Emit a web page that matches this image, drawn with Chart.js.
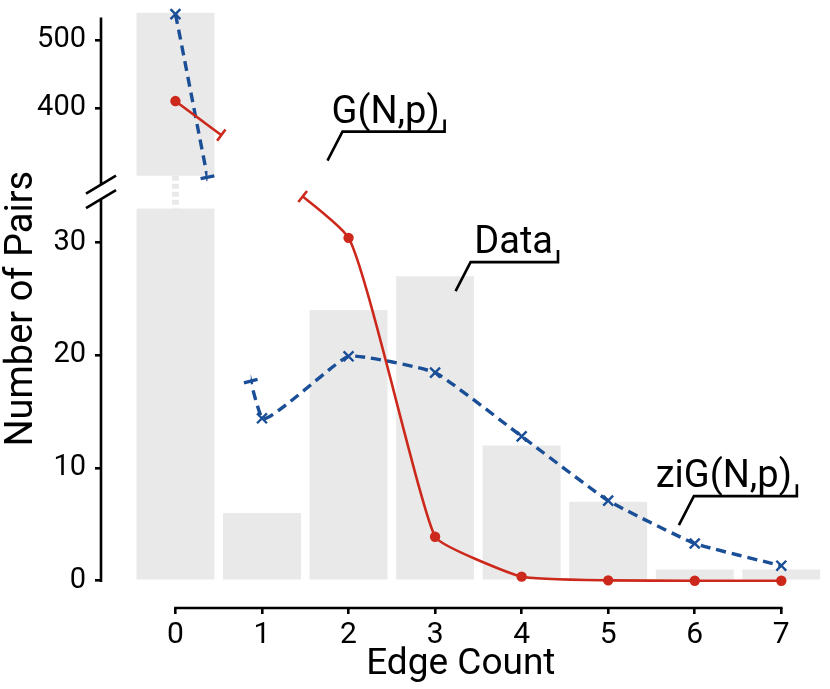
<!DOCTYPE html>
<html>
<head>
<meta charset="utf-8">
<title>Edge Count</title>
<script src="https://cdn.jsdelivr.net/npm/chart.js@4/dist/chart.umd.min.js"></script>
<style>
  html, body { margin: 0; padding: 0; background: #fff; }
  #wrap { width: 830px; height: 689px; position: relative; }
</style>
</head>
<body>
<div id="wrap"><canvas id="chart"></canvas></div>
<script>
// values
const edgeCounts = [0, 1, 2, 3, 4, 5, 6, 7];
const dataPairs = [540, 6, 24, 27, 12, 7, 1, 1];
const gnpPairs = [410, null, 30.4, 3.9, 0.36, 0.03, 0, 0]; // value at 1 falls inside the axis break
const zignpPairs = [538, 14.4, 19.9, 18.45, 12.8, 7.1, 3.3, 1.33];
const yTickValues = [0, 10, 20, 30, 400, 500];
const calloutTexts = ['G(N,p)', 'Data', 'ziG(N,p)'];

const BAR_GREY = '#e9e9e9';
const RED = '#cc291c';
const BLUE = '#1a4e96';
const FONT = 'Roboto, "DejaVu Sans", sans-serif';

// y axis is cut between these two values
const axisBreak = { from: 33, to: 300, gap: 32.8, lowerShare: 0.706 };

// linear scale with a gap: lower part and upper part each get their own factor
class BrokenLinearScale extends Chart.LinearScale {
    _parts() {
        const span = this.bottom - this.top - axisBreak.gap;
        const lowH = span * axisBreak.lowerShare;
        return { lowH: lowH, upH: span - lowH };
    }
    getPixelForValue(value) {
        const p = this._parts();
        const lo = axisBreak.from, hi = axisBreak.to;
        if (value <= lo) return this.bottom - (value - this.min) / (lo - this.min) * p.lowH;
        if (value >= hi) return this.top + (this.max - value) / (this.max - hi) * p.upH;
        return this.bottom - p.lowH - (value - lo) / (hi - lo) * axisBreak.gap;
    }
    getValueForPixel(pixel) {
        const p = this._parts();
        const lo = axisBreak.from, hi = axisBreak.to;
        const loTop = this.bottom - p.lowH;
        const hiBottom = this.top + p.upH;
        if (pixel >= loTop) return this.min + (this.bottom - pixel) / p.lowH * (lo - this.min);
        if (pixel <= hiBottom) return this.max - (pixel - this.top) / p.upH * (this.max - hi);
        return lo + (loTop - pixel) / axisBreak.gap * (hi - lo);
    }
}
BrokenLinearScale.id = 'brokenLinear';
BrokenLinearScale.defaults = Chart.LinearScale.defaults;
Chart.register(BrokenLinearScale);

// point + tangent on the drawn bezier path at pixel x
function curveAt(pts, X) {
    const bez = (t, a, b, c, d) => { const u = 1 - t; return u * u * u * a + 3 * u * u * t * b + 3 * u * t * t * c + t * t * t * d; };
    const der = (t, a, b, c, d) => { const u = 1 - t; return 3 * u * u * (b - a) + 6 * u * t * (c - b) + 3 * t * t * (d - c); };
    for (let i = 0; i < pts.length - 1; i++) {
        const p = pts[i], q = pts[i + 1];
        if (X < p.x || X > q.x) continue;
        const c1x = p.cp2x ?? p.x, c1y = p.cp2y ?? p.y;
        const c2x = q.cp1x ?? q.x, c2y = q.cp1y ?? q.y;
        let lo = 0, hi = 1;
        for (let k = 0; k < 40; k++) {
            const m = (lo + hi) / 2;
            if (bez(m, p.x, c1x, c2x, q.x) < X) lo = m; else hi = m;
        }
        const t = (lo + hi) / 2;
        return {
            x: bez(t, p.x, c1x, c2x, q.x), y: bez(t, p.y, c1y, c2y, q.y),
            dx: der(t, p.x, c1x, c2x, q.x), dy: der(t, p.y, c1y, c2y, q.y)
        };
    }
    return null;
}

// hide each line over its own x range and put a small end cap on both sides
const lineGapPlugin = {
    id: 'lineGap',
    beforeDatasetDraw(chart, args) {
        const ds = chart.data.datasets[args.index];
        if (!ds.breakX) return;
        const xs = chart.scales.x;
        const a = xs.getPixelForValue(ds.breakX[0]);
        const b = xs.getPixelForValue(ds.breakX[1]);
        const ctx = chart.ctx;
        ctx.save();
        ctx.beginPath();
        ctx.rect(0, 0, a, chart.height);
        ctx.rect(b, 0, chart.width - b, chart.height);
        ctx.clip();
    },
    afterDatasetDraw(chart, args) {
        const ds = chart.data.datasets[args.index];
        if (!ds.breakX) return;
        const ctx = chart.ctx;
        ctx.restore();
        const pts = args.meta.dataset.points.filter(p => !p.skip);
        const xs = chart.scales.x;
        ctx.save();
        ctx.setLineDash([]);
        ctx.strokeStyle = ds.borderColor;
        ctx.lineWidth = ds.borderWidth;
        ds.breakX.forEach(v => {
            const c = curveAt(pts, xs.getPixelForValue(v));
            if (!c) return;
            const len = Math.hypot(c.dx, c.dy) || 1;
            const nx = -c.dy / len * 7, ny = c.dx / len * 7;
            ctx.beginPath();
            ctx.moveTo(c.x - nx, c.y - ny);
            ctx.lineTo(c.x + nx, c.y + ny);
            ctx.stroke();
        });
        ctx.restore();
    }
};

// gap across the tall bar, the cut spine and the short x axis line
const brokenAxisPlugin = {
    id: 'brokenAxis',
    afterDatasetDraw(chart, args) {
        if (args.index !== 0) return;
        const ys = chart.scales.y;
        const hiPx = ys.getPixelForValue(axisBreak.to);
        const loPx = ys.getPixelForValue(axisBreak.from);
        const ctx = chart.ctx;
        args.meta.data.forEach(bar => {
            if (bar.y >= loPx) return;
            ctx.save();
            ctx.fillStyle = '#fff';
            ctx.fillRect(bar.x - bar.width / 2 - 1, hiPx, bar.width + 2, loPx - hiPx);
            ctx.strokeStyle = BAR_GREY;
            ctx.lineWidth = 7;
            ctx.setLineDash([5, 3]);
            ctx.beginPath();
            ctx.moveTo(bar.x, hiPx);
            ctx.lineTo(bar.x, loPx);
            ctx.stroke();
            ctx.restore();
        });
    },
    afterDraw(chart) {
        const { ctx, chartArea } = chart;
        const xs = chart.scales.x, ys = chart.scales.y;
        const mid = (ys.getPixelForValue(axisBreak.to) + ys.getPixelForValue(axisBreak.from)) / 2;
        const sx = chartArea.left;
        ctx.save();
        ctx.strokeStyle = '#000';
        ctx.lineWidth = 2.6;
        ctx.beginPath();
        ctx.moveTo(sx, chartArea.top + 8);
        ctx.lineTo(sx, mid - 7.5);
        ctx.moveTo(sx, mid + 7);
        ctx.lineTo(sx, ys.getPixelForValue(0) + 1.3);
        [-7.5, 7].forEach(o => {
            ctx.moveTo(sx - 15, mid + o + 9);
            ctx.lineTo(sx + 15, mid + o - 9);
        });
        const yb = chartArea.bottom;
        ctx.moveTo(xs.getPixelForValue(edgeCounts[0]) - 1.3, yb);
        ctx.lineTo(xs.getPixelForValue(edgeCounts[edgeCounts.length - 1]) + 1.3, yb);
        ctx.stroke();
        ctx.restore();
    }
};

// labels with an underline, a hook and a short leader
const calloutPlugin = {
    id: 'callouts',
    anchors: [
        { x: 1.93, y: 365, end: 3.11 },
        { x: 3.41, y: 28.25, end: 4.42 },
        { x: 5.99, y: 7.5, end: 7.18 }
    ],
    afterDraw(chart) {
        const ctx = chart.ctx;
        const xs = chart.scales.x, ys = chart.scales.y;
        ctx.save();
        ctx.strokeStyle = '#000';
        ctx.fillStyle = '#000';
        ctx.lineWidth = 2.6;
        ctx.lineJoin = 'miter';
        ctx.font = '38px ' + FONT;
        ctx.textAlign = 'right';
        ctx.textBaseline = 'alphabetic';
        this.anchors.forEach((a, i) => {
            const px = xs.getPixelForValue(a.x);
            const py = ys.getPixelForValue(a.y);
            const ex = xs.getPixelForValue(a.end);
            ctx.beginPath();
            ctx.moveTo(px - 15, py + 29);
            ctx.lineTo(px, py);
            ctx.lineTo(ex, py);
            ctx.lineTo(ex, py - 12);
            ctx.stroke();
            ctx.fillText(calloutTexts[i], ex - 5, py - 9);
        });
        ctx.restore();
    }
};

const toPoints = values => edgeCounts.map((x, i) => ({ x: x, y: values[i] }));

new Chart(document.getElementById('chart'), {
    type: 'bar',
    data: {
        datasets: [
            {
                type: 'bar',
                label: 'Data',
                data: toPoints(dataPairs),
                backgroundColor: BAR_GREY,
                borderWidth: 0,
                categoryPercentage: 0.9,
                barPercentage: 1.0,
                order: 3
            },
            {
                type: 'line',
                label: 'G(N,p)',
                data: toPoints(gnpPairs),
                borderColor: RED,
                backgroundColor: RED,
                borderWidth: 2.6,
                pointRadius: 5.2,
                pointBorderWidth: 0,
                tension: 0.12,
                spanGaps: true,
                clip: false,
                order: 1,
                breakX: [0.53, 1.47]
            },
            {
                type: 'line',
                label: 'ziG(N,p)',
                data: toPoints(zignpPairs),
                borderColor: BLUE,
                backgroundColor: BLUE,
                borderWidth: 3.4,
                borderDash: [10, 6],
                pointStyle: 'crossRot',
                pointRadius: 7,
                pointBorderWidth: 2.4,
                pointBorderColor: BLUE,
                tension: 0.12,
                clip: false,
                order: 2,
                breakX: [0.37, 0.87]
            }
        ]
    },
    options: {
        responsive: true,
        maintainAspectRatio: false,
        animation: false,
        layout: { padding: { top: 9, right: 4, left: 0, bottom: 0 } },
        plugins: {
            legend: { display: false },
            tooltip: { enabled: false }
        },
        scales: {
            x: {
                type: 'linear',
                min: -0.86,
                max: 7.454,
                offset: false,
                afterBuildTicks: scale => { scale.ticks = edgeCounts.map(v => ({ value: v })); },
                afterFit: scale => {
                    scale.height = 81;
                    scale.paddingLeft = 0;
                    scale.paddingRight = 0;
                },
                ticks: {
                    autoSkip: false,
                    maxRotation: 0,
                    padding: 3,
                    color: '#000',
                    font: { family: FONT, size: 30 },
                    callback: v => String(v)
                },
                grid: { offset: false, drawOnChartArea: false, drawTicks: true, tickLength: 6, color: '#000', lineWidth: 2.6 },
                border: { display: false },
                title: {
                    display: true,
                    text: 'Edge Count',
                    color: '#000',
                    font: { family: FONT, size: 37 },
                    padding: { top: 0, bottom: 2 }
                }
            },
            y: {
                type: 'brokenLinear',
                min: -2.42,
                max: 545,
                afterBuildTicks: scale => { scale.ticks = yTickValues.map(v => ({ value: v })); },
                afterFit: scale => {
                    scale.width = 101;
                    scale.paddingTop = 0;
                    scale.paddingBottom = 0;
                },
                ticks: {
                    autoSkip: false,
                    padding: 9,
                    color: '#000',
                    font: { family: FONT, size: 29 },
                    callback: v => String(v)
                },
                grid: { drawOnChartArea: false, drawTicks: true, tickLength: 6, color: '#000', lineWidth: 2.6 },
                border: { display: false },
                title: {
                    display: true,
                    text: 'Number of Pairs',
                    color: '#000',
                    font: { family: FONT, size: 38 },
                    padding: { top: 0, bottom: 0 }
                }
            }
        }
    },
    plugins: [lineGapPlugin, brokenAxisPlugin, calloutPlugin]
});
</script>
</body>
</html>
